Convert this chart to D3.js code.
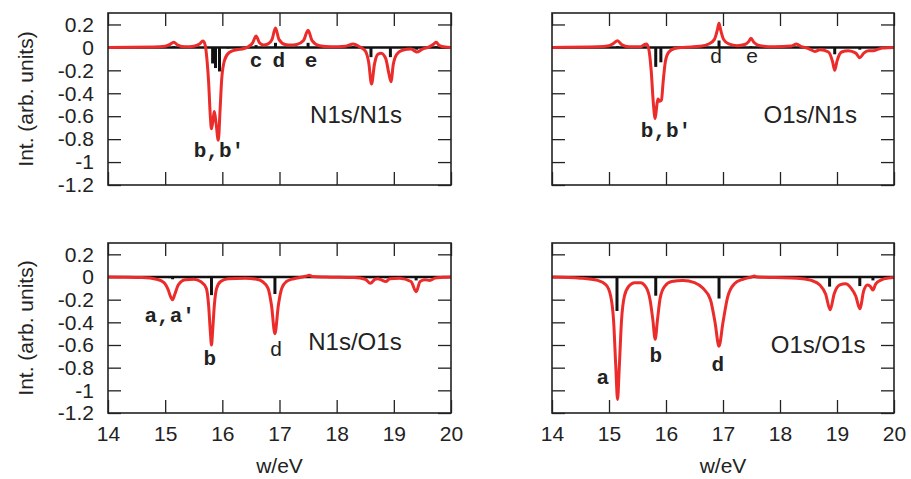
<!DOCTYPE html>
<html>
<head>
<meta charset="utf-8">
<script src="https://cdn.jsdelivr.net/npm/d3@7"></script>
<style>
  body { margin: 0; background: #fff; }
  text { font-family: "Liberation Sans", Arial, sans-serif; fill: #222; }
  .peak { font-family: "Liberation Mono", "Courier New", monospace; }
</style>
</head>
<body>
<div id="chart"></div>
<script>
var xTicks = [14, 15, 16, 17, 18, 19, 20];
var yTicks = [0.2, 0, -0.2, -0.4, -0.6, -0.8, -1, -1.2];

// spectra: [w (eV), intensity]
var redN1sN1s = [
  [14.0, 0], [14.8, 0.003], [15.0, 0.01], [15.08, 0.025], [15.15, 0.045], [15.22, 0.02],
  [15.35, 0.005], [15.5, 0.01], [15.6, 0.03], [15.66, 0.055], [15.7, 0.02], [15.73, -0.1],
  [15.76, -0.3], [15.79, -0.6], [15.81, -0.71], [15.84, -0.62], [15.86, -0.56], [15.89, -0.66],
  [15.93, -0.81], [15.96, -0.55], [15.99, -0.27], [16.04, -0.11], [16.12, -0.045], [16.25, -0.02],
  [16.38, -0.01], [16.46, 0.008], [16.53, 0.04], [16.59, 0.10], [16.65, 0.04], [16.72, 0.02],
  [16.8, 0.03], [16.87, 0.07], [16.93, 0.17], [16.99, 0.07], [17.1, 0.025], [17.2, 0.02],
  [17.3, 0.025], [17.42, 0.06], [17.50, 0.15], [17.57, 0.06], [17.7, 0.015], [17.9, 0.005],
  [18.15, 0.01], [18.29, 0.03], [18.4, 0.005], [18.5, -0.03], [18.56, -0.13], [18.61, -0.32],
  [18.66, -0.15], [18.72, -0.06], [18.78, -0.05], [18.86, -0.1], [18.91, -0.22], [18.95, -0.30],
  [18.99, -0.15], [19.05, -0.06], [19.15, -0.025], [19.3, -0.015], [19.4, -0.04], [19.5, -0.015],
  [19.62, 0.005], [19.7, 0.03], [19.74, 0.045], [19.8, 0.015], [19.9, 0.003], [20.0, 0]
];
var redO1sN1s = [
  [14.0, 0], [14.8, 0.005], [15.0, 0.015], [15.08, 0.035], [15.15, 0.058], [15.22, 0.025],
  [15.35, 0.005], [15.55, 0.005], [15.62, 0.025], [15.66, 0.03], [15.7, -0.02], [15.74, -0.2],
  [15.78, -0.5], [15.81, -0.62], [15.84, -0.5], [15.86, -0.45], [15.89, -0.47], [15.92, -0.46],
  [15.95, -0.3], [15.99, -0.12], [16.05, -0.04], [16.15, -0.01], [16.3, 0], [16.6, 0.01],
  [16.75, 0.03], [16.85, 0.07], [16.9, 0.15], [16.93, 0.21], [16.96, 0.15], [17.01, 0.07],
  [17.1, 0.03], [17.25, 0.015], [17.38, 0.025], [17.45, 0.05], [17.49, 0.08], [17.54, 0.045],
  [17.65, 0.015], [17.9, 0.005], [18.2, 0.012], [18.29, 0.03], [18.36, 0.01], [18.5, -0.01],
  [18.61, -0.035], [18.7, -0.02], [18.85, -0.04], [18.92, -0.12], [18.96, -0.2], [19.0, -0.12],
  [19.08, -0.04], [19.2, -0.03], [19.33, -0.05], [19.40, -0.09], [19.47, -0.05], [19.55, -0.03],
  [19.64, -0.03], [19.7, -0.02], [19.8, -0.005], [20.0, 0]
];
var redN1sO1s = [
  [14.0, 0], [14.6, -0.005], [14.85, -0.02], [14.98, -0.05], [15.05, -0.11], [15.1, -0.18],
  [15.13, -0.20], [15.17, -0.15], [15.23, -0.07], [15.35, -0.025], [15.5, -0.02], [15.62, -0.04],
  [15.72, -0.1], [15.76, -0.25], [15.79, -0.48], [15.81, -0.60], [15.83, -0.48], [15.86, -0.25],
  [15.9, -0.1], [15.97, -0.04], [16.1, -0.015], [16.4, -0.01], [16.6, -0.02], [16.7, -0.04],
  [16.8, -0.1], [16.86, -0.25], [16.92, -0.50], [16.98, -0.25], [17.04, -0.1], [17.12, -0.04],
  [17.25, -0.015], [17.4, 0], [17.48, 0.01], [17.52, 0.015], [17.57, 0.005], [17.8, 0],
  [18.3, -0.005], [18.5, -0.02], [18.59, -0.055], [18.67, -0.02], [18.72, -0.015], [18.78, -0.025],
  [18.86, -0.04], [18.93, -0.015], [19.1, -0.01], [19.3, -0.04], [19.39, -0.13], [19.46, -0.04],
  [19.55, -0.025], [19.63, -0.03], [19.72, -0.01], [19.85, -0.003], [20.0, 0]
];
var redO1sO1s = [
  [14.0, 0], [14.5, -0.01], [14.8, -0.03], [14.95, -0.07], [15.03, -0.17], [15.08, -0.38],
  [15.12, -0.8], [15.15, -1.08], [15.18, -0.8], [15.22, -0.38], [15.27, -0.17], [15.35, -0.08],
  [15.45, -0.05], [15.55, -0.05], [15.65, -0.09], [15.72, -0.2], [15.77, -0.38], [15.81, -0.55],
  [15.85, -0.38], [15.9, -0.18], [15.98, -0.08], [16.1, -0.04], [16.3, -0.03], [16.5, -0.05],
  [16.65, -0.1], [16.78, -0.2], [16.86, -0.4], [16.93, -0.61], [17.0, -0.4], [17.08, -0.18],
  [17.2, -0.06], [17.35, -0.02], [17.5, 0], [17.55, 0.008], [17.6, 0], [17.9, -0.005],
  [18.3, -0.01], [18.55, -0.03], [18.7, -0.07], [18.8, -0.15], [18.88, -0.29], [18.95, -0.15],
  [19.05, -0.07], [19.15, -0.06], [19.25, -0.1], [19.33, -0.17], [19.40, -0.28], [19.47, -0.12],
  [19.53, -0.07], [19.58, -0.08], [19.63, -0.115], [19.68, -0.06], [19.78, -0.025], [19.9, -0.01],
  [20.0, -0.005]
];

// transition sticks: [w (eV), strength]
var sticksN1sN1s = [
  [15.15, 0.01], [15.83, -0.14], [15.88, -0.18], [15.95, -0.21], [16.1, -0.01], [16.3, -0.01],
  [16.59, 0.02], [16.93, 0.04], [17.50, 0.04], [18.29, 0.01], [18.60, -0.085], [18.94, -0.085],
  [19.4, -0.02], [19.74, 0.01]
];
var sticksO1sN1s = [
  [15.15, 0.01], [15.82, -0.17], [15.91, -0.13], [16.93, 0.06], [17.49, 0.01], [18.96, -0.06],
  [19.4, -0.02]
];
var sticksN1sO1s = [
  [15.08, -0.01], [15.13, -0.02], [15.81, -0.16], [16.92, -0.15], [18.59, -0.01], [18.86, -0.01],
  [19.39, -0.03]
];
var sticksO1sO1s = [
  [15.14, -0.30], [15.82, -0.165], [16.93, -0.19], [18.87, -0.085], [19.40, -0.08], [19.63, -0.03]
];

// peak labels: [text, w, intensity, bold]
var peaksN1sN1s = [["b,b'", 15.94, -0.96, true], ["c", 16.59, -0.17, true], ["d", 16.99, -0.17, true], ["e", 17.55, -0.17, true]];
var peaksO1sN1s = [["b,b'", 16.0, -0.785, true], ["d", 16.88, -0.135, false], ["e", 17.51, -0.135, false]];
var peaksN1sO1s = [["a,a'", 15.08, -0.40, true], ["b", 15.78, -0.78, true], ["d", 16.94, -0.70, false]];
var peaksO1sO1s = [["a", 14.89, -0.94, true], ["b", 15.82, -0.75, true], ["d", 16.91, -0.83, true]];

var panels = [
  {name: "N1s/N1s", red: redN1sN1s, sticks: sticksN1sN1s, peaks: peaksN1sN1s, left: 108, top: 13, w: 343, h: 172, yLab: true, xLab: false, nx: 18.34, ny: -0.66},
  {name: "O1s/N1s", red: redO1sN1s, sticks: sticksO1sN1s, peaks: peaksO1sN1s, left: 552, top: 13, w: 342, h: 172, yLab: false, xLab: false, nx: 18.53, ny: -0.66},
  {name: "N1s/O1s", red: redN1sO1s, sticks: sticksN1sO1s, peaks: peaksN1sO1s, left: 108, top: 243, w: 343, h: 170, yLab: true, xLab: true, nx: 18.32, ny: -0.64},
  {name: "O1s/O1s", red: redO1sO1s, sticks: sticksO1sO1s, peaks: peaksO1sO1s, left: 552, top: 243, w: 342, h: 170, yLab: false, xLab: true, nx: 18.67, ny: -0.67}
];

var svg = d3.select("#chart").append("svg")
    .attr("width", 911)
    .attr("height", 479);

var tickLen = 13;

panels.forEach(function(p, i) {
    var g = svg.append("g")
        .attr("transform", "translate(" + p.left + "," + p.top + ")");

    var x = d3.scaleLinear().domain([14, 20]).range([0, p.w]);
    var y = d3.scaleLinear().domain([-1.2, 0.3]).range([p.h, 0]);

    g.append("clipPath").attr("id", "clip" + i)
      .append("rect").attr("width", p.w).attr("height", p.h);

    // inward ticks on all four sides, gnuplot style
    var axB = g.append("g").attr("transform", "translate(0," + p.h + ")")
        .call(d3.axisBottom(x).tickValues(xTicks).tickSize(-tickLen).tickPadding(13)
            .tickFormat(p.xLab ? d3.format("d") : ""));
    var axT = g.append("g")
        .call(d3.axisTop(x).tickValues(xTicks).tickSize(-tickLen).tickFormat(""));
    var axL = g.append("g")
        .call(d3.axisLeft(y).tickValues(yTicks).tickSize(-tickLen).tickPadding(14)
            .tickFormat(p.yLab ? function(d) { return d3.format("")(d).replace("\u2212", "-"); } : ""));
    var axR = g.append("g").attr("transform", "translate(" + p.w + ",0)")
        .call(d3.axisRight(y).tickValues(yTicks).tickSize(-tickLen).tickFormat(""));

    [axB, axT, axL, axR].forEach(function(a) {
        a.select(".domain").remove();
        a.selectAll(".tick line").attr("stroke", "#222").attr("stroke-width", 1.3);
        a.selectAll(".tick text")
            .style("font-family", "'Liberation Sans', Arial, sans-serif")
            .style("font-size", "21px")
            .attr("fill", "#222");
    });

    var plot = g.append("g").attr("clip-path", "url(#clip" + i + ")");

    plot.append("line")
        .attr("x1", 0).attr("x2", p.w)
        .attr("y1", y(0)).attr("y2", y(0))
        .attr("stroke", "#111").attr("stroke-width", 2.5);

    plot.selectAll(".stick")
        .data(p.sticks)
        .enter()
        .append("line")
        .attr("class", "stick")
        .attr("x1", function(d) { return x(d[0]); })
        .attr("x2", function(d) { return x(d[0]); })
        .attr("y1", y(0))
        .attr("y2", function(d) { return y(d[1]); })
        .attr("stroke", "#111")
        .attr("stroke-width", 3);

    var line = d3.line()
        .x(function(d) { return x(d[0]); })
        .y(function(d) { return y(d[1]); })
        .curve(d3.curveMonotoneX);

    plot.append("path")
        .datum(p.red)
        .attr("d", line)
        .attr("fill", "none")
        .attr("stroke", "#ec2b2b")
        .attr("stroke-width", 3)
        .attr("stroke-linejoin", "round");

    g.append("rect")
        .attr("width", p.w).attr("height", p.h)
        .attr("fill", "none").attr("stroke", "#222").attr("stroke-width", 1.6);

    g.selectAll(".peak")
        .data(p.peaks)
        .enter()
        .append("text")
        .attr("class", "peak")
        .attr("x", function(d) { return x(d[1]); })
        .attr("y", function(d) { return y(d[2]); })
        .attr("text-anchor", "middle")
        .style("font-size", "21px")
        .style("font-weight", function(d) { return d[3] ? "bold" : "normal"; })
        .text(function(d) { return d[0]; });

    g.append("text")
        .attr("x", x(p.nx))
        .attr("y", y(p.ny))
        .attr("text-anchor", "middle")
        .style("font-size", "24px")
        .text(p.name);

    if (p.yLab) {
        g.append("text")
            .attr("transform", "rotate(-90)")
            .attr("x", -p.h / 2)
            .attr("y", -108 + 33)
            .attr("text-anchor", "middle")
            .style("font-size", "21px")
            .text("Int. (arb. units)");
    }
    if (p.xLab) {
        g.append("text")
            .attr("x", p.w / 2)
            .attr("y", p.h + 60)
            .attr("text-anchor", "middle")
            .style("font-size", "21px")
            .text("w/eV");
    }
});
</script>
</body>
</html>
